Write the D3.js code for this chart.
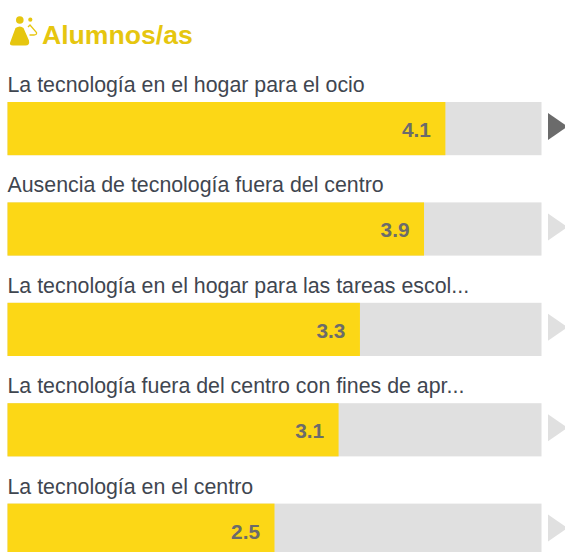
<!DOCTYPE html>
<html><head><meta charset="utf-8">
<script src="https://cdn.jsdelivr.net/npm/d3@7"></script>
<style>html,body{margin:0;padding:0;background:#fff;overflow:hidden}svg{display:block}text{font-family:"Liberation Sans",Arial,sans-serif}</style>
</head><body><svg id="c" width="565" height="552"></svg>
<script>
const title = "Alumnos/as";
const categories = ["La tecnología en el hogar para el ocio","Ausencia de tecnología fuera del centro","La tecnología en el hogar para las tareas escol...","La tecnología fuera del centro con fines de apr...","La tecnología en el centro"];
const values = [4.1,3.9,3.3,3.1,2.5];
const activeFlags = [true,false,false,false,false];
const domainMax = 5;

const svg = d3.select("#c");
const x = d3.scaleLinear().domain([0,domainMax]).range([7.5,541.5]);
const y = d3.scaleBand().domain(categories).range([102,556.8]).paddingInner(47.2/100.4).paddingOuter(0).align(0);
const bh = y.bandwidth();

// icon
const ic = svg.append("g").attr("fill","#e6c60f");
ic.append("circle").attr("cx",19.8).attr("cy",20).attr("r",3.8);
ic.append("circle").attr("cx",30.3).attr("cy",19.7).attr("r",2.1);
ic.append("path").attr("d","M15.5 28 Q20 25 23.5 28 L29 40.5 Q30 45.5 25.5 45.5 L13 45.5 Q8.5 45.5 10.5 41.5 Z");
ic.append("path").attr("d","M28 27 L30 25 L36.5 32.5 Q37 35 34 35 L29.5 35").attr("fill","none").attr("stroke","#e6c60f").attr("stroke-width",1.3);
svg.append("text").attr("x",42).attr("y",44).attr("font-size",26.6).attr("font-weight",700).attr("fill","#e6c60f").text(title);

const g = svg.selectAll("g.row").data(categories).join("g").attr("class","row");
g.append("text").attr("x",7.5).attr("y",d=>y(d)-10).attr("font-size",21.35).attr("fill","#3f4650").text(d=>d);
g.append("rect").attr("x",x(0)).attr("y",d=>y(d)).attr("width",x(domainMax)-x(0)).attr("height",bh).attr("fill","#e0e0e0");
g.append("rect").attr("x",x(0)).attr("y",d=>y(d)).attr("width",(d,i)=>x(values[i])-x(0)).attr("height",bh).attr("fill","#fcd716");
g.append("text").attr("x",(d,i)=>x(values[i])-14.5).attr("y",d=>y(d)+35).attr("text-anchor","end").attr("font-size",20.8).attr("font-weight",700).attr("fill","#6b6b6b").text((d,i)=>values[i].toFixed(1));
g.append("path").attr("d",d=>{const t=y(d);return d3.line()([[x(domainMax)+6.5,t+11],[x(domainMax)+26,t+24.5],[x(domainMax)+6.5,t+38]])+"Z";}).attr("fill",(d,i)=>activeFlags[i]?"#6b6b6b":"#e0e0e0");
</script></body></html>
